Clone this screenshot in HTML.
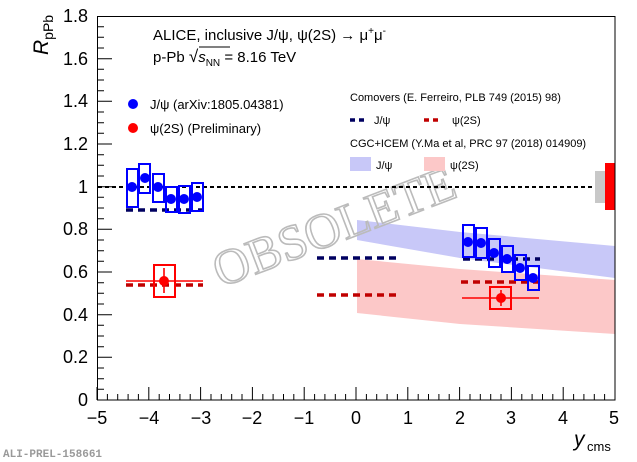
<!DOCTYPE html>
<html><head><meta charset="utf-8"><style>
html,body{margin:0;padding:0;background:#fff;}
svg{display:block;font-family:"Liberation Sans",sans-serif;}
</style></head><body>
<svg width="637" height="462" viewBox="0 0 637 462" xmlns="http://www.w3.org/2000/svg">
<!-- bands -->
<path d="M357,220 L460,232 L615,246 L615,278 L460,258 L357,240 Z" fill="#c8c8f8"/>
<path d="M357,259 L460,269 L615,280 L615,334 L460,324 L357,313 Z" fill="#fcc8c8"/>
<!-- watermark -->
<text x="0" y="0" transform="translate(340,242) rotate(-21)" text-anchor="middle" font-size="50" fill="none" stroke="#bbb" stroke-width="1.6" font-family="Liberation Serif,serif">OBSOLETE</text>
<!-- unity line -->
<line x1="98" y1="187" x2="595" y2="187" stroke="#000" stroke-width="2" stroke-dasharray="4,3"/>
<!-- comovers -->
<g stroke-width="3.5" stroke-dasharray="7,5" fill="none">
<line x1="126" y1="210" x2="203" y2="210" stroke="#000060"/>
<line x1="126" y1="285" x2="203" y2="285" stroke="#c00000"/>
<line x1="317" y1="258" x2="397" y2="258" stroke="#000060"/>
<line x1="317" y1="295" x2="397" y2="295" stroke="#c00000"/>
<line x1="463" y1="259" x2="540" y2="259" stroke="#000060"/>
<line x1="461" y1="282" x2="540" y2="282" stroke="#c00000"/>
</g>
<g stroke="#0000ff" stroke-width="2" fill="none">
<rect x="127" y="169" width="11" height="38"/>
<rect x="139" y="164" width="11" height="29"/>
<rect x="153" y="174" width="11" height="28"/>
<rect x="166" y="187" width="11" height="25"/>
<rect x="179" y="186" width="11" height="27"/>
<rect x="192" y="183" width="11" height="28"/>
<rect x="463" y="225" width="11" height="32"/>
<rect x="476" y="228" width="11" height="30"/>
<rect x="489" y="239" width="11" height="28"/>
<rect x="502" y="246" width="11" height="26"/>
<rect x="515" y="255" width="11" height="25"/>
<rect x="528" y="266" width="11" height="24"/>
</g>
<g fill="#0000ff">
<circle cx="132" cy="187" r="5"/><circle cx="145" cy="178" r="5"/><circle cx="158" cy="187" r="5"/>
<circle cx="171" cy="199" r="5"/><circle cx="184" cy="199" r="5"/><circle cx="197" cy="197" r="5"/>
<circle cx="468" cy="242" r="5"/><circle cx="481" cy="243" r="5"/><circle cx="494" cy="253" r="5"/>
<circle cx="507" cy="259" r="5"/><circle cx="520" cy="268" r="5"/><circle cx="533" cy="278" r="5"/>
</g>
<g stroke="#ff0000" stroke-width="1.6" fill="none">
<rect x="154" y="265" width="21" height="32" stroke-width="2"/>
<line x1="126" y1="281" x2="203" y2="281"/>
<line x1="164" y1="268" x2="164" y2="293"/>
<rect x="490" y="287" width="21" height="22" stroke-width="2"/>
<line x1="462" y1="298" x2="539" y2="298"/>
<line x1="501" y1="290" x2="501" y2="306"/>
</g>
<circle cx="164" cy="281" r="5" fill="#ff0000"/>
<circle cx="501" cy="298" r="5" fill="#ff0000"/>
<rect x="595" y="171" width="10" height="32" fill="#c8c8c8"/>
<rect x="605" y="163" width="10" height="47" fill="#ff0000"/>
<rect x="97.5" y="16.5" width="517.5" height="383.5" fill="none" stroke="#000" stroke-width="1"/>
<g stroke="#000" stroke-width="1">
<path d="M97,400v-13M148.8,400v-13M200.6,400v-13M252.4,400v-13M304.2,400v-13M356,400v-13M407.8,400v-13M459.6,400v-13M511.4,400v-13M563.2,400v-13"/>
<path d="M107.4,400v-6M117.7,400v-6M128.1,400v-6M138.4,400v-6M159.2,400v-6M169.5,400v-6M179.9,400v-6M190.2,400v-6M211,400v-6M221.3,400v-6M231.7,400v-6M242,400v-6M262.8,400v-6M273.1,400v-6M283.5,400v-6M293.8,400v-6M314.6,400v-6M324.9,400v-6M335.3,400v-6M345.6,400v-6M366.4,400v-6M376.7,400v-6M387.1,400v-6M397.4,400v-6M418.2,400v-6M428.5,400v-6M438.9,400v-6M449.2,400v-6M470,400v-6M480.3,400v-6M490.7,400v-6M501,400v-6M521.8,400v-6M532.1,400v-6M542.5,400v-6M552.8,400v-6M573.6,400v-6M583.9,400v-6M594.3,400v-6M604.6,400v-6"/>
<path d="M97,400h15M97,357.3h15M97,314.7h15M97,272h15M97,229.3h15M97,186.7h15M97,144h15M97,101.3h15M97,58.7h15"/>
<path d="M97,389.3h7M97,378.7h7M97,368h7M97,346.7h7M97,336h7M97,325.3h7M97,304h7M97,293.3h7M97,282.7h7M97,261.3h7M97,250.7h7M97,240h7M97,218.7h7M97,208h7M97,197.3h7M97,176h7M97,165.3h7M97,154.7h7M97,133.3h7M97,122.7h7M97,112h7M97,90.7h7M97,80h7M97,69.3h7M97,48h7M97,37.3h7M97,26.7h7"/>
</g>
<g font-size="18" text-anchor="end" fill="#000">
<text x="88" y="406">0</text><text x="88" y="363">0.2</text><text x="88" y="321">0.4</text>
<text x="88" y="278">0.6</text><text x="88" y="235">0.8</text><text x="88" y="193">1</text>
<text x="88" y="150">1.2</text><text x="88" y="107">1.4</text><text x="88" y="65">1.6</text><text x="88" y="22">1.8</text>
</g>
<g font-size="18" text-anchor="middle" fill="#000">
<text x="97" y="424">−5</text><text x="149" y="424">−4</text><text x="201" y="424">−3</text><text x="252" y="424">−2</text>
<text x="304" y="424">−1</text><text x="356" y="424">0</text><text x="408" y="424">1</text><text x="460" y="424">2</text>
<text x="511" y="424">3</text><text x="563" y="424">4</text><text x="614" y="424">5</text>
</g>
<text transform="translate(48,55) rotate(-90)" font-size="21" fill="#000"><tspan font-style="italic">R</tspan><tspan font-size="14" dy="5">pPb</tspan></text>
<text x="574" y="446" font-size="21" font-style="italic" fill="#000">y</text>
<text x="587" y="451" font-size="13" fill="#000">cms</text>
<text x="3" y="457" font-size="11" fill="#999" font-family="Liberation Mono,monospace" font-weight="bold">ALI-PREL-158661</text>
<text x="153" y="40" font-size="15">ALICE, inclusive J/ψ, ψ(2S) → μ<tspan font-size="10" dy="-6">+</tspan><tspan dy="6">μ</tspan><tspan font-size="10" dy="-6">-</tspan></text>
<text x="153" y="62" font-size="15">p-Pb <tspan font-size="17">√</tspan><tspan font-style="italic">s</tspan><tspan font-size="10" dy="4">NN</tspan><tspan dy="-4"> = 8.16 TeV</tspan></text>
<line x1="199" y1="47" x2="230" y2="47" stroke="#000" stroke-width="1"/>
<circle cx="133" cy="104" r="5" fill="#0000ff"/>
<text x="150" y="109" font-size="13">J/ψ (arXiv:1805.04381)</text>
<circle cx="133" cy="128" r="5" fill="#ff0000"/>
<text x="150" y="133" font-size="13">ψ(2S) (Preliminary)</text>
<text x="350" y="101" font-size="11">Comovers (E. Ferreiro, PLB 749 (2015) 98)</text>
<line x1="350" y1="120" x2="367" y2="120" stroke="#000060" stroke-width="3.5" stroke-dasharray="5,4"/>
<text x="374" y="124" font-size="11">J/ψ</text>
<line x1="424" y1="120" x2="441" y2="120" stroke="#c00000" stroke-width="3.5" stroke-dasharray="5,4"/>
<text x="452" y="124" font-size="11">ψ(2S)</text>
<text x="350" y="147" font-size="11">CGC+ICEM (Y.Ma et al, PRC 97 (2018) 014909)</text>
<rect x="350" y="157" width="21" height="14" fill="#c8c8f8"/>
<text x="376" y="169" font-size="11">J/ψ</text>
<rect x="424" y="157" width="21" height="14" fill="#fcc8c8"/>
<text x="450" y="169" font-size="11">ψ(2S)</text>
</svg>
</body></html>
